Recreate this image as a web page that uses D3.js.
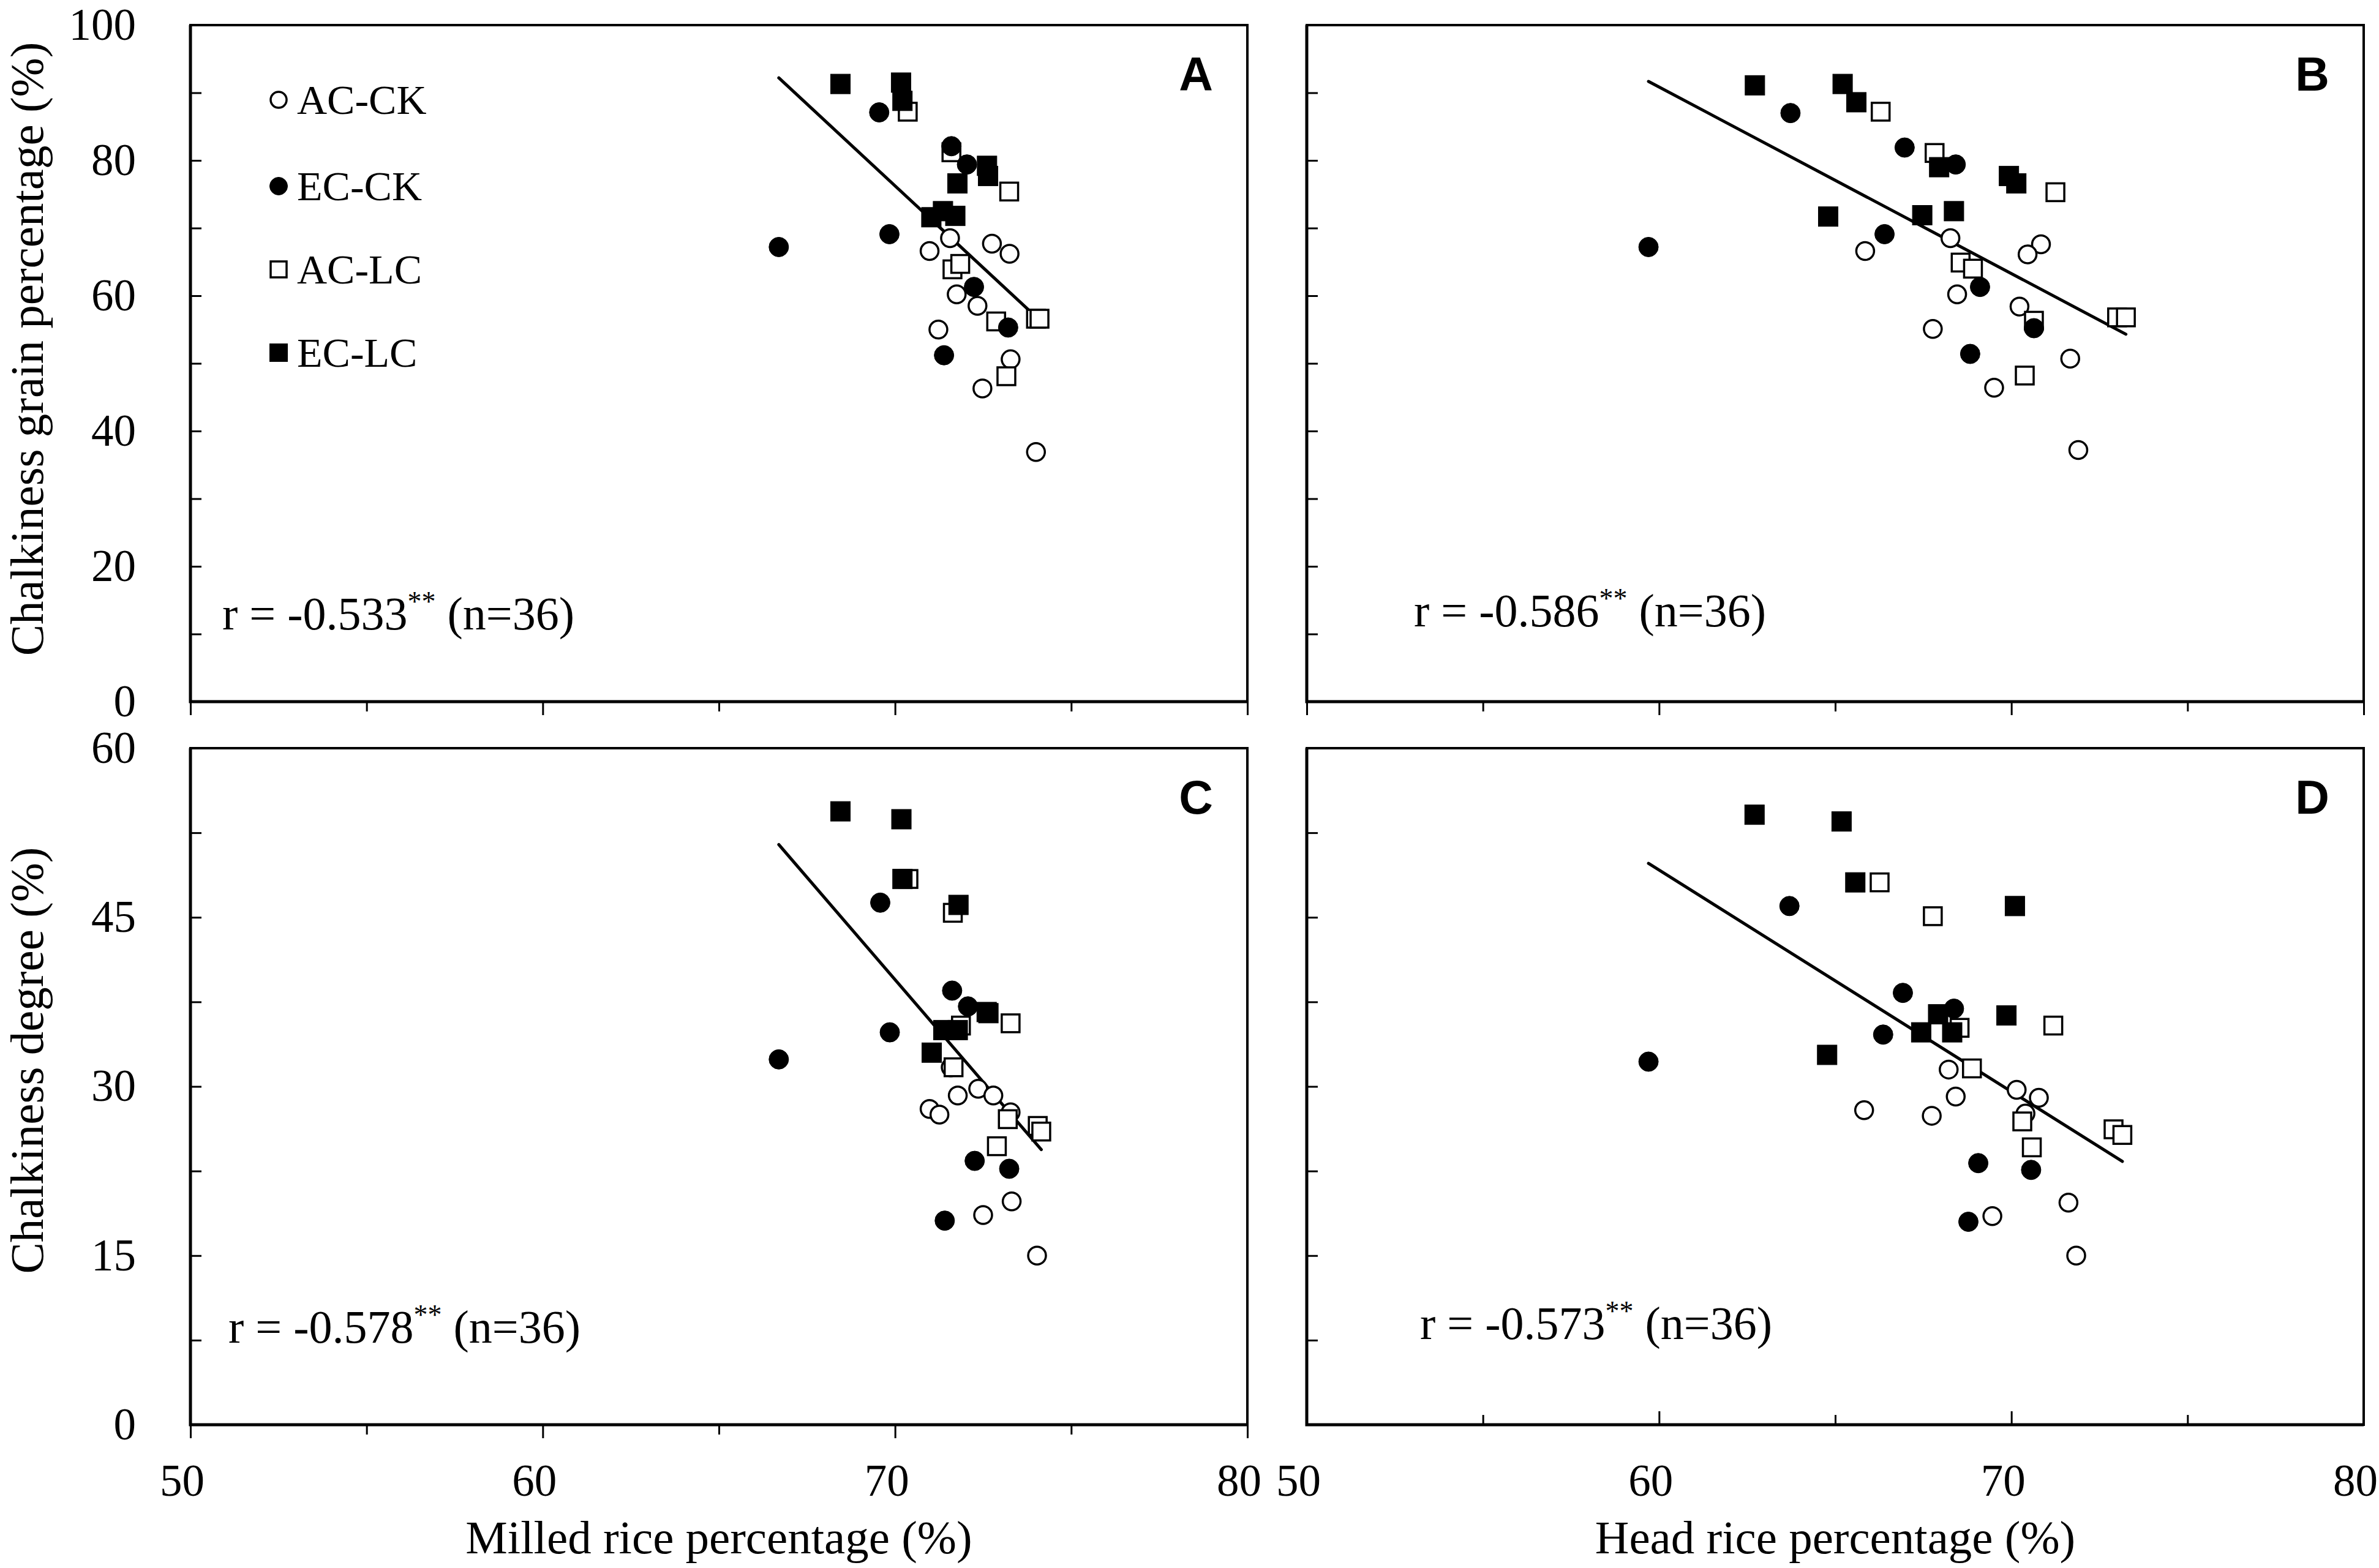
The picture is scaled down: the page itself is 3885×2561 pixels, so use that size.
<!DOCTYPE html>
<html>
<head>
<meta charset="utf-8">
<script src="https://cdn.jsdelivr.net/npm/d3@7"></script>
<style>
  body { margin: 0; background: #fff; }
  svg { display: block; }
</style>
</head>
<body>
<svg id="chart" width="3885" height="2561"></svg>
<script>
// ---- data ----
const treatments = ["AC-CK", "EC-CK", "AC-LC", "EC-LC"];

// A: milled rice (%) vs chalky grain percentage (%)
const acCkA = [[71.56,68.5],[70.98,66.6],[72.75,67.7],[73.25,66.2],[71.75,60.2],[72.34,58.5],[71.23,55.0],[73.28,50.6],[72.48,46.3],[74.0,36.9]];
const ecCkA = [[69.55,87.1],[71.6,82.1],[72.04,79.4],[69.84,69.1],[66.7,67.2],[72.24,61.3],[73.21,55.3],[71.39,51.2]];
const acLcA = [[70.36,87.2],[71.6,81.2],[73.24,75.4],[71.63,63.9],[71.85,64.7],[72.87,56.2],[74.0,56.6],[74.1,56.6],[73.16,48.1]];
const ecLcA = [[68.45,91.3],[70.17,91.5],[70.21,88.8],[72.61,79.2],[72.64,77.7],[71.77,76.6],[71.03,71.6],[71.36,72.5],[71.71,71.8]];

// B: head rice (%) vs chalky grain percentage (%)
const acCkB = [[68.27,68.5],[65.85,66.6],[70.84,67.6],[70.46,66.1],[68.46,60.2],[70.23,58.4],[67.77,55.1],[71.67,50.7],[69.51,46.4],[71.9,37.2]];
const ecCkB = [[63.73,87.0],[66.97,81.9],[68.42,79.4],[66.4,69.1],[59.7,67.2],[69.11,61.3],[70.64,55.2],[68.83,51.4]];
const acLcB = [[66.29,87.2],[67.82,81.1],[71.25,75.3],[68.56,64.9],[68.91,64.0],[70.64,56.3],[73.0,56.8],[73.25,56.8],[70.38,48.2]];
const ecLcB = [[62.72,91.1],[65.21,91.3],[65.6,88.6],[67.95,79.0],[69.93,77.7],[70.14,76.6],[64.8,71.7],[67.47,71.9],[68.37,72.5]];

// C: milled rice (%) vs chalkiness degree (%)
const acCkC = [[71.58,31.7],[72.36,29.8],[72.79,29.2],[71.78,29.2],[73.28,27.7],[70.98,28.0],[71.26,27.5],[73.31,19.8],[72.5,18.6],[74.03,15.0]];
const ecCkC = [[69.58,46.3],[71.62,38.5],[72.07,37.1],[69.85,34.8],[66.7,32.4],[72.26,23.4],[73.24,22.7],[71.41,18.1]];
const acLcC = [[70.38,48.4],[71.64,45.4],[71.87,35.4],[73.28,35.6],[71.66,31.7],[73.2,27.1],[74.05,26.5],[74.15,26.0],[72.89,24.7]];
const ecLcC = [[68.45,54.4],[70.18,53.7],[70.21,48.4],[71.8,46.1],[72.6,36.6],[72.65,36.5],[71.37,35.0],[71.78,35.0],[71.04,33.0]];

// D: head rice (%) vs chalkiness degree (%)
const acCkD = [[68.22,31.5],[70.15,29.7],[70.78,29.0],[70.4,27.6],[68.42,29.1],[65.82,27.9],[67.74,27.4],[71.62,19.7],[69.46,18.5],[71.84,15.0]];
const ecCkD = [[63.7,46.0],[66.92,38.3],[68.37,36.9],[66.36,34.6],[59.7,32.2],[69.06,23.2],[70.56,22.6],[68.78,18.0]];
const acLcD = [[66.26,48.1],[67.77,45.1],[71.19,35.4],[68.53,35.2],[68.88,31.6],[70.31,26.9],[72.9,26.2],[73.15,25.7],[70.58,24.6]];
const ecLcD = [[62.71,54.1],[65.18,53.5],[65.57,48.1],[70.1,46.0],[67.92,36.4],[69.86,36.3],[67.44,34.8],[68.32,34.8],[64.77,32.8]];

const panelLetters = ["A", "B", "C", "D"];
const rValues = ["-0.533", "-0.586", "-0.578", "-0.573"];
const sampleSize = 36;

const xTicksMajor = [50, 60, 70, 80];
const xTicksMinor = [55, 65, 75];
const yTicksGrain = d3.range(0, 101, 10);
const yLabelsGrain = [0, 20, 40, 60, 80, 100];
const yTicksDegree = d3.range(0, 60.1, 7.5);
const yLabelsDegree = [0, 15, 30, 45, 60];

const xTitles = ["Milled rice percentage (%)", "Head rice percentage (%)"];
const yTitles = ["Chalkiness grain percentage (%)", "Chalkiness degree (%)"];

// ---- layout ----
const serif = "'Liberation Serif', 'Times New Roman', serif";
const sans = "'Liberation Sans', Arial, sans-serif";
const PW = 1726, PH = 1105;

// marker styles per treatment, drawn open first then filled
const style = {
  "AC-CK": {shape: "circle", fill: "#fff"},
  "EC-CK": {shape: "circle", fill: "#000"},
  "AC-LC": {shape: "square", fill: "#fff"},
  "EC-LC": {shape: "square", fill: "#000"}
};
const drawOrder = ["AC-CK", "AC-LC", "EC-LC", "EC-CK"];

const panels = [
  {x0: 311, y0: 41, yDomain: [0, 100], yTicks: yTicksGrain, yLabels: yLabelsGrain,
   tickDir: "out", xLabels: false, rPos: [363, 1028],
   data: {"AC-CK": acCkA, "EC-CK": ecCkA, "AC-LC": acLcA, "EC-LC": ecLcA}},
  {x0: 2134, y0: 41, yDomain: [0, 100], yTicks: yTicksGrain, yLabels: null,
   tickDir: "out", xLabels: false, rPos: [2309, 1023],
   data: {"AC-CK": acCkB, "EC-CK": ecCkB, "AC-LC": acLcB, "EC-LC": ecLcB}},
  {x0: 311, y0: 1222, yDomain: [0, 60], yTicks: yTicksDegree, yLabels: yLabelsDegree,
   tickDir: "out", xLabels: true, rPos: [373, 2193],
   data: {"AC-CK": acCkC, "EC-CK": ecCkC, "AC-LC": acLcC, "EC-LC": ecLcC}},
  {x0: 2134, y0: 1222, yDomain: [0, 60], yTicks: yTicksDegree, yLabels: null,
   tickDir: "in", xLabels: true, rPos: [2319, 2187],
   data: {"AC-CK": acCkD, "EC-CK": ecCkD, "AC-LC": acLcD, "EC-LC": ecLcD}}
];

const svg = d3.select("#chart");

function styleAxis(sel, size) {
  sel.select(".domain").remove();
  sel.selectAll("line").attr("stroke", "#000").attr("stroke-width", 3);
  sel.selectAll("text").attr("fill", "#000");
  sel.attr("font-family", serif).attr("font-size", size);
}

function drawMarker(g, shape, fill, cx, cy, size) {
  const open = fill === "#fff";
  if (shape === "circle") {
    g.append("circle").attr("cx", cx).attr("cy", cy).attr("r", size / 2 - (open ? 1.5 : 0))
      .attr("fill", fill).attr("stroke", "#000").attr("stroke-width", open ? 3.5 : 1);
  } else {
    const s = open ? size - 3 : size;
    g.append("rect").attr("x", cx - s / 2).attr("y", cy - s / 2).attr("width", s).attr("height", s)
      .attr("fill", fill).attr("stroke", "#000").attr("stroke-width", open ? 3.5 : 1);
  }
}

panels.forEach((p, i) => {
  const x = d3.scaleLinear().domain([50, 80]).range([p.x0, p.x0 + PW]);
  const y = d3.scaleLinear().domain(p.yDomain).range([p.y0 + PH, p.y0]);
  const g = svg.append("g");
  const yBottom = p.y0 + PH;

  // y ticks pointing inside the frame
  g.append("g").attr("transform", `translate(${p.x0},0)`)
    .call(d3.axisRight(y).tickValues(p.yTicks).tickSize(18).tickFormat(""))
    .call(s => styleAxis(s, 73));
  if (p.yLabels) {
    g.append("g").attr("transform", `translate(${p.x0},0)`)
      .call(d3.axisLeft(y).tickValues(p.yLabels).tickSize(0).tickPadding(89))
      .call(s => styleAxis(s, 73));
  }

  // x ticks: outward below the frame, or inward for panel D
  const mk = p.tickDir === "out" ? d3.axisBottom : d3.axisTop;
  g.append("g").attr("transform", `translate(0,${yBottom})`)
    .call(mk(x).tickValues(xTicksMajor).tickSize(22).tickFormat(""))
    .call(s => styleAxis(s, 73));
  g.append("g").attr("transform", `translate(0,${yBottom})`)
    .call(mk(x).tickValues(xTicksMinor).tickSize(16).tickFormat(""))
    .call(s => styleAxis(s, 73));
  if (p.xLabels) {
    g.append("g").attr("transform", `translate(-14,${yBottom})`)
      .call(d3.axisBottom(x).tickValues(xTicksMajor).tickSize(0).tickPadding(64))
      .call(s => styleAxis(s, 73));
  }

  // frame
  g.append("rect").attr("x", p.x0).attr("y", p.y0).attr("width", PW).attr("height", PH)
    .attr("fill", "none").attr("stroke", "#000").attr("stroke-width", 4);
  g.append("path").attr("d", `M${p.x0},${p.y0}V${yBottom}H${p.x0 + PW}`)
    .attr("fill", "none").attr("stroke", "#000").attr("stroke-width", 5);

  // least-squares regression line over all 36 points
  const all = treatments.flatMap(t => p.data[t]);
  const mx = d3.mean(all, d => d[0]), my = d3.mean(all, d => d[1]);
  const slope = d3.sum(all, d => (d[0] - mx) * (d[1] - my)) / d3.sum(all, d => (d[0] - mx) ** 2);
  const [xa, xb] = d3.extent(all, d => d[0]);
  const fit = v => my + slope * (v - mx);
  g.append("line")
    .attr("x1", x(xa)).attr("y1", y(fit(xa)))
    .attr("x2", x(xb)).attr("y2", y(fit(xb)))
    .attr("stroke", "#000").attr("stroke-width", 5).attr("stroke-linecap", "round");

  // points
  drawOrder.forEach(t => {
    const st = style[t];
    const mg = g.append("g").attr("class", "series-" + t);
    p.data[t].forEach(d => drawMarker(mg, st.shape, st.fill, x(d[0]), y(d[1]), 32));
  });

  // panel letter
  g.append("text").attr("x", p.x0 + PW - 84).attr("y", p.y0 + 107)
    .attr("text-anchor", "middle").attr("font-family", sans).attr("font-weight", "bold")
    .attr("font-size", 77).text(panelLetters[i]);

  // correlation label
  const rt = g.append("text").attr("x", p.rPos[0]).attr("y", p.rPos[1])
    .attr("font-family", serif).attr("font-size", 76);
  rt.append("tspan").text(`r = ${rValues[i]}`);
  rt.append("tspan").attr("font-size", 46).attr("dy", -30).text("**");
  rt.append("tspan").attr("dy", 30).text(` (n=${sampleSize})`);
});

// legend inside panel A
const legendRows = [163, 304, 440, 576];
treatments.forEach((t, k) => {
  const st = style[t];
  drawMarker(svg, st.shape, st.fill, 455, legendRows[k], 29);
  svg.append("text").attr("x", 485).attr("y", legendRows[k] + 23)
    .attr("font-family", serif).attr("font-size", 68).text(t);
});

// axis titles
svg.append("text").attr("x", 311 + PW / 2).attr("y", 2537).attr("text-anchor", "middle")
  .attr("font-family", serif).attr("font-size", 77).text(xTitles[0]);
svg.append("text").attr("x", 2134 + PW / 2).attr("y", 2537).attr("text-anchor", "middle")
  .attr("font-family", serif).attr("font-size", 77).text(xTitles[1]);
svg.append("text").attr("transform", "translate(70,570) rotate(-90)").attr("text-anchor", "middle")
  .attr("font-family", serif).attr("font-size", 77).text(yTitles[0]);
svg.append("text").attr("transform", "translate(70,1732) rotate(-90)").attr("text-anchor", "middle")
  .attr("font-family", serif).attr("font-size", 77).text(yTitles[1]);
</script>
</body>
</html>
